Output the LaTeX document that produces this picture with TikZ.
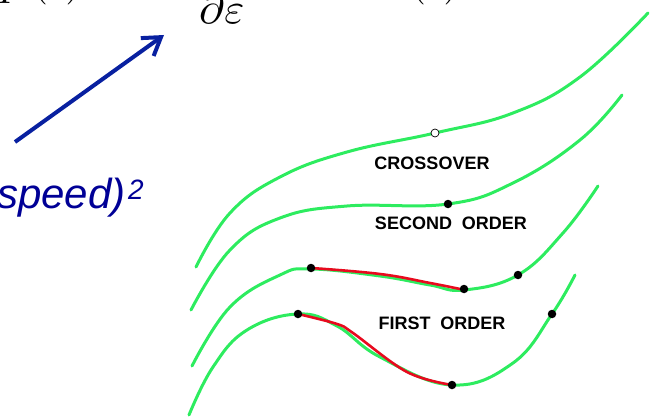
\documentclass[tikz,border=0pt]{standalone}
\usepackage{graphicx}
\usepackage{fontspec}
\usepackage{amsmath}
\newfontfamily\hel{Liberation Sans}
\usetikzlibrary{arrows.meta}
\definecolor{gcurve}{RGB}{45,236,95}
\definecolor{rcurve}{RGB}{232,10,30}
\definecolor{arrblue}{RGB}{8,32,160}
\definecolor{txtblue}{RGB}{0,0,150}
\tikzset{
  gline/.style={draw=gcurve, line width=3pt, line cap=round},
  rline/.style={draw=rcurve, line width=2.6pt, line cap=round},
  bdot/.style={circle, fill=black, minimum size=8.5pt, inner sep=0pt},
  odot/.style={circle, draw=black, fill=white, line width=0.7pt, minimum size=8pt, inner sep=0pt},
  lbl/.style={font=\hel\bfseries\fontsize{18}{20}\selectfont, inner sep=0pt},
  mathtxt/.style={inner sep=0pt, anchor=base west},
}
\newcommand{\bigmath}[2][3.8]{\scalebox{#1}{$#2$}}
\begin{document}
\begin{tikzpicture}[x=1pt,y=-1pt]
\useasboundingbox (0,0) rectangle (656,417);
\clip (0,0) rectangle (656,417);
% cropped formula at the top
\node[mathtxt] (fp) at (-3,4) {\bigmath{P}};
\node[mathtxt] (fpe) at (33,-4) {\bigmath{(\varepsilon)}};
\node[mathtxt] (fden) at (199,24) {\bigmath[4.3]{\partial\varepsilon}};
\node[mathtxt] (fre) at (411,-4) {\bigmath{(\varepsilon)}};
% arrow and text
\coordinate (atail) at (15,142);
\coordinate (ahead) at (164,35);
\draw[arrblue, line width=4pt, -{Straight Barb[length=17pt,width=22pt,line width=4pt]}] (atail) -- (ahead);
\node[anchor=base west, inner sep=0, text=txtblue, font=\hel\itshape\fontsize{42}{44}\selectfont] (spd) at (-3,208) {speed)};
\node[anchor=base west, inner sep=0, text=txtblue, font=\hel\itshape\fontsize{28}{30}\selectfont] (sq) at (128,200) {2};
% curves
\draw[gline] plot[smooth, tension=0.7] coordinates {(196,267) (230,213) (280,177) (347,152) (435,133) (513,113) (580,77) (648,13)};
\draw[gline] plot[smooth, tension=0.7] coordinates {(191,310) (230,250) (280,218) (347,206) (448,204) (513,183) (580,140) (622,95)};
\draw[gline] plot[smooth, tension=0.7] coordinates {(192,366) (230,307) (280,275) (311,269) (380,276) (430,285) (464,290) (518,275) (563,233) (598,186)};
\draw[gline] plot[smooth, tension=0.7] coordinates {(189,415) (213,367) (247,330) (298,314) (337,326) (380,357) (452,385) (513,363) (552,314) (575,275)};
\draw[rline] plot[smooth, tension=0.7] coordinates {(311,268) (380,274) (430,283) (460,289)};
\draw[rline] plot[smooth, tension=0.6] coordinates {(298,314) (337,324) (353,333) (407,372) (452,385)};
% markers
\node[odot] (c1) at (435,133) {};
\node[bdot] (s1) at (448,204) {};
\node[bdot] (f1) at (311,268) {};
\node[bdot] (f2) at (464,289) {};
\node[bdot] (f3) at (518,275) {};
\node[bdot] (g1) at (298,314) {};
\node[bdot] (g2) at (452,385) {};
\node[bdot] (g3) at (552,314) {};
% labels
\node[lbl] (lc) at (432,163) {CROSSOVER};
\node[lbl] (ls) at (451,223) {SECOND\ \ ORDER};
\node[lbl] (lf) at (442,323) {FIRST\ \ ORDER};
\end{tikzpicture}
\end{document}
